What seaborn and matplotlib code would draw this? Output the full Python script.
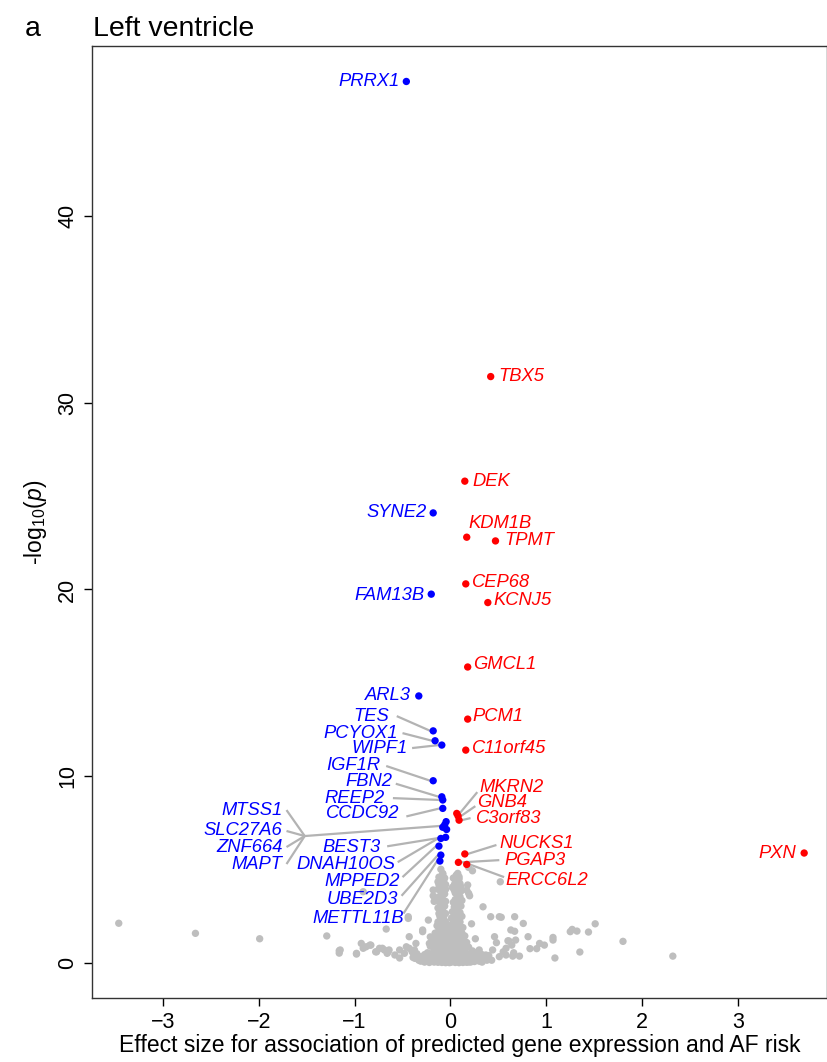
import pandas as pd
import matplotlib.pyplot as plt
import seaborn as sns

# labelled genes: down (blue) and up (red)
blue_genes = ["PRRX1", "SYNE2", "FAM13B", "ARL3", "TES", "PCYOX1", "WIPF1", "IGF1R",
              "FBN2", "REEP2", "CCDC92", "MTSS1", "SLC27A6", "ZNF664", "MAPT", "BEST3",
              "DNAH10OS", "MPPED2", "UBE2D3", "METTL11B"]
blue_x = [-0.46, -0.18, -0.20, -0.33, -0.18, -0.16, -0.09, -0.18, -0.09, -0.08, -0.08,
          -0.045, -0.06, -0.08, -0.04, -0.05, -0.10, -0.12, -0.10, -0.11]
blue_y = [47.2, 24.1, 19.75, 14.3, 12.43, 11.9, 11.67, 9.76, 8.9, 8.73, 8.28,
          7.57, 7.40, 7.27, 7.15, 6.73, 6.67, 6.26, 5.78, 5.46]

red_genes = ["TBX5", "DEK", "KDM1B", "TPMT", "CEP68", "KCNJ5", "GMCL1", "PCM1", "C11orf45",
             "MKRN2", "GNB4", "C3orf83", "NUCKS1", "PGAP3", "ERCC6L2", "PXN"]
red_x = [0.42, 0.15, 0.17, 0.47, 0.16, 0.39, 0.18, 0.18, 0.16,
         0.066, 0.08, 0.09, 0.15, 0.083, 0.17, 3.69]
red_y = [31.4, 25.8, 22.8, 22.6, 20.3, 19.3, 15.85, 13.06, 11.4,
         8.01, 7.87, 7.65, 5.84, 5.39, 5.28, 5.89]

# non-significant genes (grey)
gray_x = [-3.46, -2.66, -1.99, -1.29, -1.16, -1.16, -0.98, -0.91, -0.67,
          -0.93, -0.88, -0.83, -0.91, -0.78, -0.74, -0.69, -0.66, -1.15, -0.98,
          -0.84, -0.77, -0.71, -0.65, -0.58, -0.46, -0.43, -0.44, -0.29, -0.53,
          -0.375, -0.32, -0.22, -0.36,
          0.53, 0.76, 0.67, 0.81, 0.61, 0.64, 0.55, 0.58, 0.66, 0.65, 0.72, 0.83,
          0.90, 0.93, 0.98, 1.07, 1.07, 1.09, 1.25, 1.27, 1.32, 1.35, 1.44, 1.51,
          1.80, 2.32,
          -0.10, -0.08, 0.076, 0.09, 0.19, 0.23, 0.52, -0.18, -0.13, -0.06, 0.04,
          0.11, 0.18, 0.19, 0.34, 0.42, 0.51, 0.67, -0.44, -0.23, -0.29, 0.63,
          0.46, 0.48, 0.60, 0.68, -0.64, -0.53, -0.48, -0.43, -0.29, 0.30, 0.37,
          0.44, 0.51, 0.58,
          -0.08, -0.11, -0.07, -0.12, -0.08, -0.10, -0.06, -0.12, -0.08, -0.10,
          -0.06, -0.13, -0.09, -0.05, -0.11, -0.07, -0.13, -0.09, -0.05, -0.12,
          -0.08, -0.04, -0.14, -0.10, -0.06, -0.02, -0.15, -0.11, -0.07, -0.03,
          -0.17, -0.13, -0.09, -0.05, -0.01, -0.19, -0.15, -0.11, -0.07, -0.03,
          -0.21, -0.25, -0.17, -0.13, -0.09, -0.05, -0.01, -0.18, -0.17,
          0.06, 0.09, 0.05, 0.08, 0.04, 0.07, 0.10, 0.05, 0.08, 0.04, 0.07, 0.10,
          0.05, 0.08, 0.03, 0.06, 0.10, 0.04, 0.08, 0.12, 0.02, 0.06, 0.10, 0.14,
          0.03, 0.07, 0.11, 0.15, 0.01, 0.05, 0.09, 0.13, 0.17, 0.21, 0.03, 0.07,
          0.11, 0.15, 0.19, 0.23, 0.27, 0.01, 0.05, 0.09, 0.13, 0.17, 0.21, 0.25,
          0.30, 0.33, 0.17, 0.20, -0.01, 0.00, 0.01, -0.27, -0.33, -0.39, 0.38,
          0.26, -0.21, 0.22]
gray_y = [2.13, 1.59, 1.30, 1.45, 0.66, 0.53, 0.48, 3.82, 1.82,
          1.05, 0.87, 0.96, 0.79, 0.60, 0.79, 0.70, 0.52, 0.70, 0.52,
          0.96, 0.60, 0.79, 0.60, 0.43, 0.87, 1.41, 2.39, 1.68, 0.27,
          0.70, 0.34, 1.05, 1.05,
          2.45, 2.12, 1.70, 1.41, 1.18, 0.96, 0.60, 0.43, 0.55, 0.37, 0.37, 0.77,
          0.77, 1.05, 0.96, 1.37, 1.23, 0.27, 1.68, 1.80, 1.71, 0.59, 1.66, 2.10,
          1.16, 0.37,
          5.02, 4.80, 4.80, 4.62, 5.12, 4.94, 4.35, 3.91, 4.35, 4.18, 4.18,
          4.08, 4.18, 3.73, 3.01, 2.48, 2.48, 2.48, 2.48, 2.30, 1.77, 1.77,
          1.41, 1.09, 1.19, 1.23, 0.70, 0.70, 0.52, 0.79, 0.25, 0.70, 0.43,
          0.70, 0.34, 0.79,
          4.75, 4.50, 4.40, 4.20, 4.05, 3.85, 3.70, 3.55, 3.40, 3.20,
          3.05, 2.95, 2.80, 2.65, 2.50, 2.35, 2.20, 2.05, 1.95, 1.80,
          1.65, 1.55, 1.45, 1.35, 1.25, 1.15, 1.05, 0.95, 0.90, 0.80,
          0.70, 0.62, 0.55, 0.48, 0.40, 0.35, 0.28, 0.22, 0.18, 0.12,
          0.10, 0.20, 0.05, 0.04, 0.03, 0.02, 0.02, 3.60, 3.30,
          4.70, 4.50, 4.30, 4.10, 3.90, 3.70, 3.55, 3.40, 3.20, 3.00, 2.85, 2.70,
          2.55, 2.40, 2.25, 2.10, 1.95, 1.85, 1.70, 1.60, 1.50, 1.40, 1.30, 1.20,
          1.10, 1.00, 0.92, 0.85, 0.75, 0.68, 0.60, 0.55, 0.50, 0.45, 0.35, 0.30,
          0.25, 0.20, 0.15, 0.12, 0.20, 0.05, 0.03, 0.02, 0.03, 0.04, 0.05, 0.08,
          0.25, 0.45, 3.90, 3.60, 1.80, 1.20, 2.40, 0.45, 0.15, 0.30, 0.15,
          1.30, 1.40, 2.10]

# more grey genes in the dense core near zero effect
core_x = [-0.12, -0.06, -0.11, -0.05, -0.13, -0.05, -0.09, -0.14, -0.05, -0.11,
          -0.08, -0.12, -0.07, -0.10, -0.05, -0.14, -0.10, -0.06, -0.16, -0.12,
          -0.08, -0.03, -0.18, -0.13, -0.09, -0.05, -0.21, -0.16, -0.12, -0.08,
          -0.04, -0.24, -0.20, -0.15, -0.11, -0.07, -0.03, -0.28, -0.23, -0.19,
          -0.15, -0.11, -0.07, -0.03, -0.35, -0.31, -0.27, -0.22, -0.40, -0.37,
          0.03, 0.10, 0.02, 0.11, 0.05, 0.12, 0.03, 0.11, 0.02, 0.06,
          0.12, 0.04, 0.10, 0.01, 0.13, 0.06, 0.10, 0.03, 0.15, 0.08,
          0.12, 0.04, 0.17, 0.09, 0.13, 0.05, 0.19, 0.02, 0.07, 0.11,
          0.15, 0.23, 0.27, 0.01, 0.05, 0.09, 0.13, 0.17, 0.21, 0.25,
          0.30, 0.33, 0.36, 0.40, 0.03, 0.07, 0.11, 0.15, 0.19, 0.43]
core_y = [4.60, 4.55, 4.30, 4.20, 3.95, 3.95, 3.65, 3.35, 3.30, 3.05,
          2.95, 2.65, 2.55, 2.25, 2.20, 2.00, 1.85, 1.75, 1.60, 1.55,
          1.45, 1.40, 1.25, 1.20, 1.10, 1.05, 0.90, 0.85, 0.78, 0.72,
          0.65, 0.55, 0.50, 0.45, 0.40, 0.35, 0.28, 0.35, 0.25, 0.18,
          0.14, 0.10, 0.08, 0.06, 0.50, 0.10, 0.05, 0.03, 0.60, 0.25,
          4.55, 4.25, 4.05, 3.85, 3.75, 3.35, 3.25, 3.05, 2.75, 2.65,
          2.50, 2.40, 2.20, 2.05, 1.90, 1.80, 1.65, 1.60, 1.45, 1.50,
          1.35, 1.30, 1.10, 1.15, 1.05, 1.05, 0.85, 0.90, 0.82, 0.75,
          0.70, 0.65, 0.55, 0.55, 0.50, 0.45, 0.40, 0.35, 0.30, 0.35,
          0.10, 0.05, 0.20, 0.40, 0.15, 0.12, 0.10, 0.08, 0.06, 0.15]

# label anchors (text edge) in data units
blue_simple = {"PRRX1": (-0.53, 47.2), "SYNE2": (-0.25, 24.1),
               "FAM13B": (-0.27, 19.7), "ARL3": (-0.41, 14.3)}
red_simple = {"TBX5": (0.50, 31.4), "DEK": (0.23, 25.8), "KDM1B": (0.19, 23.55),
              "TPMT": (0.56, 22.6), "CEP68": (0.23, 20.4), "KCNJ5": (0.45, 19.4),
              "GMCL1": (0.24, 16.0), "PCM1": (0.23, 13.2), "C11orf45": (0.23, 11.5)}
pxn_label = (3.61, 5.89)
# text position, line start
blue_lead = {"TES": ((-0.635, 13.22), (-0.56, 13.22)),
             "PCYOX1": ((-0.55, 12.31), (-0.50, 12.31)),
             "WIPF1": ((-0.45, 11.51), (-0.40, 11.51)),
             "IGF1R": ((-0.73, 10.55), (-0.67, 10.55)),
             "FBN2": ((-0.61, 9.74), (-0.57, 9.60)),
             "REEP2": ((-0.69, 8.83), (-0.60, 8.83)),
             "CCDC92": ((-0.53, 7.98), (-0.46, 7.85)),
             "BEST3": ((-0.73, 6.16), (-0.66, 6.25)),
             "DNAH10OS": ((-0.57, 5.30), (-0.55, 5.40)),
             "MPPED2": ((-0.53, 4.39), (-0.50, 4.60)),
             "UBE2D3": ((-0.55, 3.42), (-0.51, 3.60)),
             "METTL11B": ((-0.48, 2.38), (-0.49, 2.65))}
fan_genes = ["MTSS1", "SLC27A6", "ZNF664", "MAPT"]
fan_text_y = [8.19, 7.07, 6.21, 5.30]
fan_text_x = -1.75
fan_join = (-1.52, 6.80)
red_lead = {"MKRN2": ((0.30, 9.42), (0.28, 9.15)),
            "GNB4": ((0.28, 8.62), (0.26, 8.40)),
            "C3orf83": ((0.27, 7.76), (0.21, 7.76)),
            "NUCKS1": ((0.51, 6.42), (0.48, 6.32)),
            "PGAP3": ((0.56, 5.51), (0.51, 5.51)),
            "ERCC6L2": ((0.57, 4.44), (0.56, 4.60))}

BLUE = "#0000FF"
RED = "#FF0000"
GREY = "#BEBEBE"
LINE = "#B3B3B3"

sns.set_style("white")
plt.rcParams["font.family"] = ["Liberation Sans", "DejaVu Sans"]
plt.rcParams["mathtext.fontset"] = "custom"
plt.rcParams["mathtext.rm"] = "Liberation Sans"
plt.rcParams["mathtext.it"] = "Liberation Sans:italic"
for k in ["text.color", "axes.labelcolor", "xtick.color", "ytick.color"]:
    plt.rcParams[k] = "black"

df = pd.concat([
    pd.DataFrame({"x": gray_x + core_x, "y": gray_y + core_y, "grp": "ns"}),
    pd.DataFrame({"x": blue_x, "y": blue_y, "grp": "down"}),
    pd.DataFrame({"x": red_x, "y": red_y, "grp": "up"}),
], ignore_index=True)

fig = plt.figure(figsize=(8.28, 10.62), dpi=100)
ax = fig.add_axes([0.111, 0.0603, 0.888, 0.8964])

bx = dict(zip(blue_genes, zip(blue_x, blue_y)))
rx = dict(zip(red_genes, zip(red_x, red_y)))
lkw = dict(color=LINE, lw=1.6, zorder=1, solid_capstyle="butt")
for g, (tpos, lpos) in blue_lead.items():
    ax.plot([lpos[0], bx[g][0] - 0.03], [lpos[1], bx[g][1]], **lkw)
for g, (tpos, lpos) in red_lead.items():
    ax.plot([lpos[0], rx[g][0] + 0.03], [lpos[1], rx[g][1]], **lkw)
for ty in fan_text_y:
    ax.plot([fan_text_x + 0.04, fan_join[0]], [ty, fan_join[1]], **lkw)
ax.plot([fan_join[0], bx["MAPT"][0] - 0.04], [fan_join[1], 7.35], **lkw)

sns.scatterplot(data=df, x="x", y="y", hue="grp",
                palette={"ns": GREY, "down": BLUE, "up": RED},
                s=28, linewidth=0, legend=False, ax=ax, zorder=2)

tkw = dict(fontsize=13.2, style="italic", va="center")
for g, (px, py) in blue_simple.items():
    ax.text(px, py, g, color=BLUE, ha="right", **tkw)
for g, (px, py) in red_simple.items():
    ax.text(px, py, g, color=RED, ha="left", **tkw)
ax.text(pxn_label[0], pxn_label[1], "PXN", color=RED, ha="right", **tkw)
for g, (tpos, lpos) in blue_lead.items():
    ax.text(tpos[0], tpos[1], g, color=BLUE, ha="right", **tkw)
for g, (tpos, lpos) in red_lead.items():
    ax.text(tpos[0], tpos[1], g, color=RED, ha="left", **tkw)
for g, ty in zip(fan_genes, fan_text_y):
    ax.text(fan_text_x, ty, g, color=BLUE, ha="right", **tkw)

ax.set_xlim(-3.74, 3.93)
ax.set_ylim(-1.87, 49.1)
ax.set_xticks([-3, -2, -1, 0, 1, 2, 3])
ax.set_yticks([0, 10, 20, 30, 40])
ax.tick_params(direction="out", length=6, width=1, labelsize=15.5, colors="black",
               left=True, bottom=True, pad=4)
plt.setp(ax.get_yticklabels(), rotation=90, va="center")
for sp in ax.spines.values():
    sp.set_color("#333333")
    sp.set_linewidth(1)
ax.set_xlabel("Effect size for association of predicted gene expression and AF risk",
              fontsize=16.5, labelpad=1)
ax.set_ylabel(r"-log$_{10}$($p$)", fontsize=16.5, labelpad=6)

fig.text(0.030, 0.973, "a", fontsize=20.5, va="center")
fig.text(0.112, 0.973, "Left ventricle", fontsize=20.5, va="center")

fig.savefig("out.png", dpi=100)
